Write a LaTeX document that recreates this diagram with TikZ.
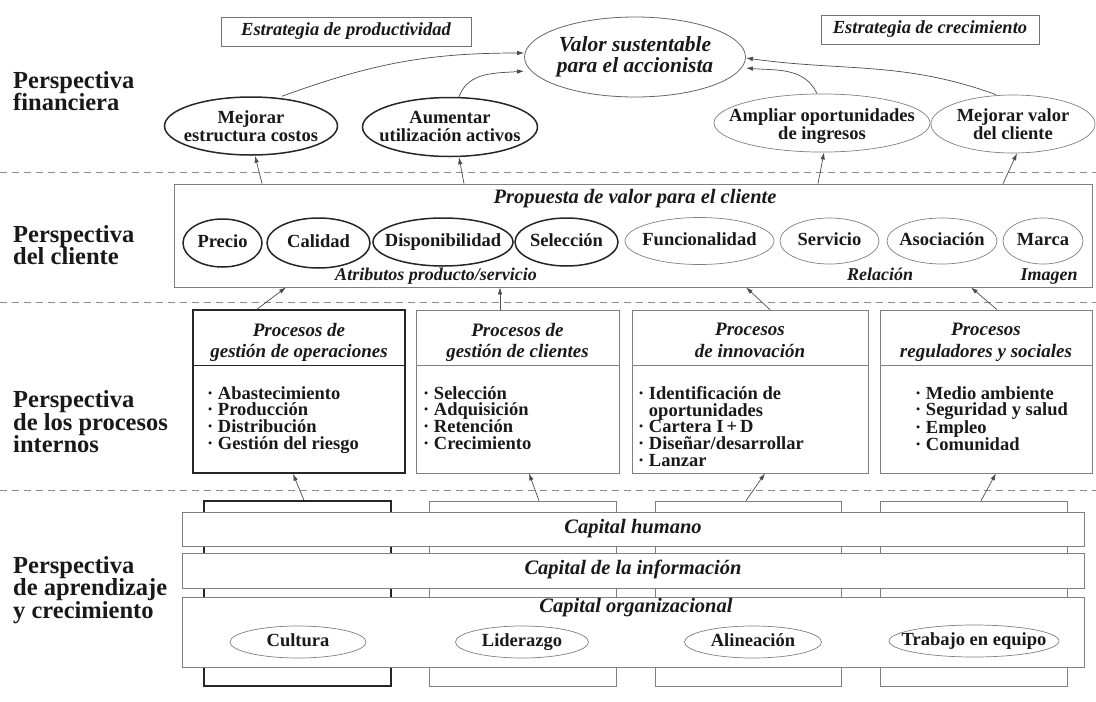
\documentclass[tikz,border=0pt]{standalone}
\usepackage{fontspec}
\setmainfont{Liberation Serif}
\usepackage{tikz}
\usetikzlibrary{arrows.meta,positioning,shapes.geometric,calc}

\begin{document}
\begin{tikzpicture}[x=1pt, y=-1pt, every node/.style={inner sep=0pt, text=black!90}, persp/.style={anchor=west, align=left, font=\fontsize{24.5}{22.5}\selectfont\bfseries}, oneline/.style={text height=12pt, text depth=4pt}, strat/.style={rectangle, draw=black!55, line width=0.7pt, minimum height=29pt, oneline, font=\fontsize{18.5}{20}\selectfont\bfseries\itshape}, goal/.style={ellipse, draw=black!60, line width=0.8pt, inner xsep=-30pt, align=center, font=\fontsize{21.5}{20.5}\selectfont\bfseries\itshape}, darkell/.style={ellipse, draw=black!85, line width=1.5pt, inner xsep=-30pt, align=center, font=\fontsize{18.5}{18}\selectfont\bfseries}, lightell/.style={ellipse, draw=black!50, line width=0.7pt, inner xsep=-30pt, align=center, font=\fontsize{18.5}{18}\selectfont\bfseries}, panel/.style={rectangle, draw=black!50, line width=0.7pt}, darkpanel/.style={rectangle, draw=black!85, line width=1.5pt}, band/.style={rectangle, draw=black!50, line width=0.7pt, fill=white, minimum width=902pt, oneline, font=\fontsize{20.5}{21}\selectfont\bfseries\itshape}, bandtext/.style={oneline, font=\fontsize{20.5}{21}\selectfont\bfseries\itshape}, head/.style={anchor=north, align=center, font=\fontsize{19}{21.5}\selectfont\bfseries\itshape}, tag/.style={oneline, font=\fontsize{18}{20}\selectfont\bfseries\itshape}, items/.style={anchor=north west, align=left, font=\fontsize{18.5}{16.8}\selectfont\bfseries}, sep/.style={draw=black!45, line width=0.7pt, dash pattern=on 7pt off 5pt}, arrow/.style={-{Latex[length=7pt,width=4.5pt]}, line width=0.7pt, draw=black!70}]
\useasboundingbox[fill=white] (0,0) rectangle (1096,702);
\node[persp] (pfin) at (13,91) {Perspectiva\\financiera};
\node[persp] (pcli) at (13,245) {Perspectiva\\del cliente};
\node[persp] (pint) at (13,422) {Perspectiva\\de los procesos\\internos};
\node[persp] (papr) at (13,590) {Perspectiva\\de aprendizaje\\y crecimiento};
\draw[sep] (0,172) -- (1096,172);
\draw[sep] (0,302) -- (1096,302);
\draw[sep] (0,490) -- (1096,490);
\node[strat, minimum width=250pt] (prod) at (346,31.5) {Estrategia de productividad};
\node[strat, minimum width=218pt] (crec) at (930,29.5) {Estrategia de crecimiento};
\node[goal, minimum width=221pt, minimum height=80pt] (valor) at (635,57) {Valor sustentable\\para el accionista};
\node[darkell, minimum width=173pt, minimum height=58pt] (costos) at (251,126) {Mejorar\\estructura costos};
\node[darkell, minimum width=175pt, minimum height=59pt] (activos) at (450,127) {Aumentar\\utilización activos};
\node[lightell, minimum width=216pt, minimum height=57pt] (ingresos) at (822,123) {\rule{0pt}{19pt}Ampliar oportunidades\\de ingresos};
\node[lightell, minimum width=164pt, minimum height=58pt] (valorcli) at (1013,124) {Mejorar valor\\del cliente};
\node[panel, minimum width=918pt, minimum height=103pt] (cust) at (633,235.5) {};
\node[bandtext] (propuesta) at (635,199) {Propuesta de valor para el cliente};
\node[darkell, oneline, minimum width=79pt, minimum height=48pt] (precio) at (222.5,243) {Precio};
\node[darkell, oneline, minimum width=103pt, minimum height=50pt] (calidad) at (318.5,243) {Calidad};
\node[darkell, oneline, minimum width=140pt, minimum height=48pt] (dispo) at (443,242) {Disponibilidad};
\node[darkell, oneline, minimum width=103pt, minimum height=48pt] (selec) at (566.5,242) {Selección};
\node[lightell, oneline, minimum width=149pt, minimum height=47pt] (func) at (699.5,241) {Funcionalidad};
\node[lightell, oneline, minimum width=99pt, minimum height=46pt] (serv) at (829.5,241) {Servicio};
\node[lightell, oneline, minimum width=110pt, minimum height=46pt] (asoc) at (942,241) {Asociación};
\node[lightell, oneline, minimum width=80pt, minimum height=46pt] (marca) at (1043,241) {Marca};
\node[tag] (atrib) at (436,276) {Atributos producto/servicio};
\node[tag] (relacion) at (880,276) {Relación};
\node[tag] (imagen) at (1049,276) {Imagen};
\node[darkpanel, minimum width=212pt, minimum height=163pt] (ops) at (299,391.5) {};
\node[panel, minimum width=203pt, minimum height=163pt] (cli) at (517.5,391.5) {};
\node[panel, minimum width=236pt, minimum height=163pt] (inno) at (750,391.5) {};
\node[panel, minimum width=212pt, minimum height=163pt] (regu) at (986,391.5) {};
\draw[line width=1.5pt, black!85] ($(ops.north west)+(0,56)$) -- ($(ops.north east)+(0,56)$);
\draw[line width=0.7pt, black!50] ($(cli.north west)+(0,56)$) -- ($(cli.north east)+(0,56)$);
\draw[line width=0.7pt, black!50] ($(inno.north west)+(0,56)$) -- ($(inno.north east)+(0,56)$);
\draw[line width=0.7pt, black!50] ($(regu.north west)+(0,56)$) -- ($(regu.north east)+(0,56)$);
\node[head] (opstit) at (299,323) {Procesos de\\gestión de operaciones};
\node[head] (clitit) at (517.5,323) {Procesos de\\gestión de clientes};
\node[head] (innotit) at (750,323) {Procesos\\de innovación};
\node[head] (regutit) at (986,323) {Procesos\\reguladores y sociales};
\node[items] (opslist) at (207,386) {· Abastecimiento\\· Producción\\· Distribución\\· Gestión del riesgo};
\node[items] (clilist) at (423,386) {· Selección\\· Adquisición\\· Retención\\· Crecimiento};
\node[items] (innolist) at (638,386) {· Identificación de\\\phantom{· }oportunidades\\· Cartera I\,+\,D\\· Diseñar/desarrollar\\· Lanzar};
\node[items] (regulist) at (915,386) {· Medio ambiente\\· Seguridad y salud\\· Empleo\\· Comunidad};
\node[darkpanel, minimum width=187pt, minimum height=185pt] (colops) at (297.5,593.5) {};
\node[panel, minimum width=187pt, minimum height=185pt] (colcli) at (522.5,593.5) {};
\node[panel, minimum width=186pt, minimum height=185pt] (colinno) at (748,593.5) {};
\node[panel, minimum width=187pt, minimum height=185pt] (colregu) at (973.5,593.5) {};
\node[band, minimum height=34pt] (humano) at (633,529) {Capital humano};
\node[band, minimum height=35pt] (info) at (633,570.5) {Capital de la información};
\node[band, minimum height=70pt] (org) at (633,632) {};
\node[bandtext] (orgtit) at (636,608) {Capital organizacional};
\node[lightell, oneline, minimum width=136pt, minimum height=32pt] (cultura) at (298,642) {Cultura};
\node[lightell, oneline, minimum width=133pt, minimum height=32pt] (lider) at (522,642) {Liderazgo};
\node[lightell, oneline, minimum width=137pt, minimum height=32pt] (alin) at (753,642) {Alineación};
\node[lightell, oneline, minimum width=170pt, minimum height=32pt] (equipo) at (974,641) {Trabajo en equipo};
\draw[arrow] ([xshift=31pt]costos.north) to[out=20, in=180] ([yshift=4pt]valor.west);
\draw[arrow] ([xshift=9pt]activos.north) to[out=70, in=185] ([yshift=-14pt]valor.west);
\draw[arrow] ([xshift=-5pt]ingresos.north) to[out=115, in=-5] ([yshift=-11pt]valor.east);
\draw[arrow] ([xshift=-17pt]valorcli.north) to[out=160, in=-8] ([yshift=-1pt]valor.east);
\draw[arrow] ([xshift=-371pt]cust.north) -- ([xshift=4pt]costos.south);
\draw[arrow] ([xshift=-169pt]cust.north) -- ([xshift=9pt]activos.south);
\draw[arrow] ([xshift=185pt]cust.north) -- ([xshift=2pt]ingresos.south);
\draw[arrow] ([xshift=370pt]cust.north) -- ([xshift=4pt]valorcli.south);
\draw[arrow] ([xshift=-42pt]ops.north) -- ([xshift=-347pt]cust.south);
\draw[arrow] ([xshift=-17.5pt]cli.north) -- ([xshift=-133pt]cust.south);
\draw[arrow] ([xshift=20pt]inno.north) -- ([xshift=113pt]cust.south);
\draw[arrow] ([xshift=11pt]regu.north) -- ([xshift=338pt]cust.south);
\draw[arrow] ([xshift=6.5pt]colops.north) -- ([xshift=-6pt]ops.south);
\draw[arrow] ([xshift=16.5pt]colcli.north) -- ([xshift=11.5pt]cli.south);
\draw[arrow] ([xshift=-2pt]colinno.north) -- ([xshift=15pt]inno.south);
\draw[arrow] ([xshift=7.5pt]colregu.north) -- ([xshift=10pt]regu.south);
\end{tikzpicture}
\end{document}
